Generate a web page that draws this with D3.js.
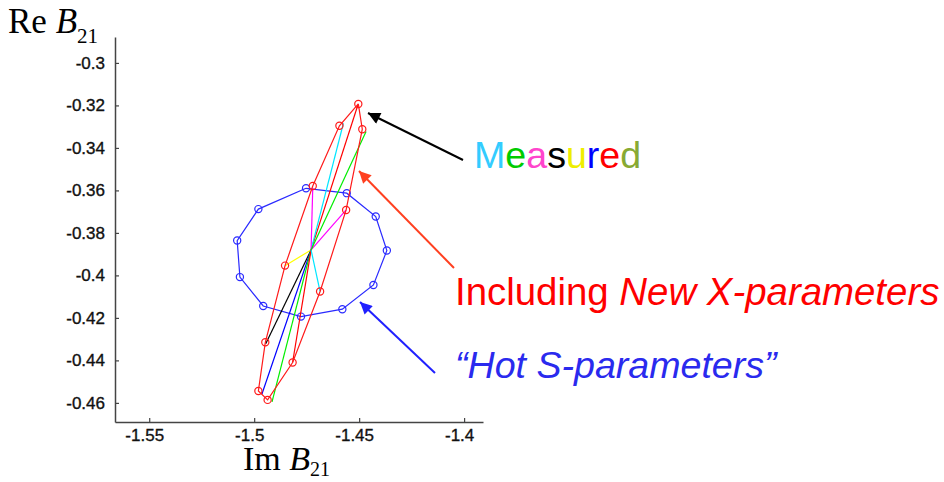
<!DOCTYPE html>
<html>
<head>
<meta charset="utf-8">
<script src="https://cdn.jsdelivr.net/npm/d3@7/dist/d3.min.js"></script>
<style>
  html, body { margin: 0; padding: 0; background: #fff; }
  svg { display: block; }
</style>
</head>
<body>
<svg id="chart" width="944" height="482"></svg>
<script>
// ---- data ----
const xTickValues = [-1.55, -1.5, -1.45, -1.4];
const xTickLabels = ["-1.55", "-1.5", "-1.45", "-1.4"];
const yTickValues = [-0.3, -0.32, -0.34, -0.36, -0.38, -0.4, -0.42, -0.44, -0.46];
const yTickLabels = ["-0.3", "-0.32", "-0.34", "-0.36", "-0.38", "-0.4", "-0.42", "-0.44", "-0.46"];

// "Hot S-parameters" (blue, closed)
const hotS = [
  [-1.4753, -0.3590], [-1.4559, -0.3613], [-1.4421, -0.3723], [-1.4368, -0.3883],
  [-1.4432, -0.4045], [-1.4580, -0.4159], [-1.4777, -0.4194], [-1.4957, -0.4144],
  [-1.5068, -0.4008], [-1.5081, -0.3836], [-1.4980, -0.3688]
];

// Including New X-parameters (red, closed)
const newX = [
  [-1.4504, -0.3193], [-1.4594, -0.3296], [-1.4721, -0.3579], [-1.4853, -0.3954],
  [-1.4947, -0.4315], [-1.4980, -0.4544], [-1.4936, -0.4586], [-1.4817, -0.4410],
  [-1.4686, -0.4076], [-1.4562, -0.3692], [-1.4485, -0.3312]
];

// Measured: spokes from the common starting point
const measuredStart = [-1.4729, -0.3880];
const measuredEnds = [
  [-1.4506, -0.3198], [-1.4575, -0.3284], [-1.4721, -0.3588], [-1.4853, -0.3955],
  [-1.4945, -0.4322], [-1.4963, -0.4558], [-1.4915, -0.4595], [-1.4817, -0.4410],
  [-1.4686, -0.4076], [-1.4562, -0.3692], [-1.4467, -0.3323]
];
const measuredColors = ["#ff0000", "#00e5ff", "#ff00ff", "#ffff00", "#000000", "#0000ff",
  "#00ee00", "#ff0000", "#00e5ff", "#ff00ff", "#00ee00"];

// ---- chart ----
const svg = d3.select("#chart");
const x = d3.scaleLinear().domain([-1.5663, -1.391]).range([115, 483]);
const y = d3.scaleLinear().domain([-0.469, -0.2878]).range([422, 37]);

const axisColor = "#444";
const gx = svg.append("g").attr("transform", "translate(0,422)")
  .call(d3.axisBottom(x).tickValues(xTickValues)
    .tickFormat((d, i) => xTickLabels[i]).tickSizeInner(-4).tickSizeOuter(0).tickPadding(7));
const gy = svg.append("g").attr("transform", "translate(115,0)")
  .call(d3.axisLeft(y).tickValues(yTickValues)
    .tickFormat((d, i) => yTickLabels[i]).tickSizeInner(-4).tickSizeOuter(0).tickPadding(10));
[gx, gy].forEach(g => {
  g.select(".domain").attr("stroke", axisColor).attr("stroke-width", 1.5);
  g.selectAll(".tick line").attr("stroke", axisColor).attr("stroke-width", 1.2);
  g.selectAll(".tick text").attr("fill", "#111").attr("stroke", "#111").attr("stroke-width", 0.35)
    .style("font-family", "'Liberation Sans', Arial, sans-serif").style("font-size", "17px");
});
gx.selectAll(".tick text").attr("dx", -5);

const line = d3.line().x(d => x(d[0])).y(d => y(d[1]));

// Hot S-parameters
svg.append("path").datum(hotS.concat([hotS[0]]))
  .attr("d", line).attr("fill", "none").attr("stroke", "#2a2aff").attr("stroke-width", 1.2);
svg.selectAll("circle.hs").data(hotS).enter().append("circle").attr("class", "hs")
  .attr("cx", d => x(d[0])).attr("cy", d => y(d[1])).attr("r", 3.6)
  .attr("fill", "none").attr("stroke", "#2a2aff").attr("stroke-width", 1.2);

// Measured spokes
svg.selectAll("path.meas").data(measuredEnds).enter().append("path").attr("class", "meas")
  .attr("d", d => line([measuredStart, d])).attr("fill", "none")
  .attr("stroke", (d, i) => measuredColors[i]).attr("stroke-width", 1.2);

// New X-parameters
svg.append("path").datum(newX.concat([newX[0]]))
  .attr("d", line).attr("fill", "none").attr("stroke", "#ff1a1a").attr("stroke-width", 1.2);
svg.selectAll("circle.nx").data(newX).enter().append("circle").attr("class", "nx")
  .attr("cx", d => x(d[0])).attr("cy", d => y(d[1])).attr("r", 3.6)
  .attr("fill", "none").attr("stroke", "#ff1a1a").attr("stroke-width", 1.2);

// Axis titles
const serif = "'Liberation Serif', 'Times New Roman', serif";
const ylab = svg.append("text").attr("x", 8).attr("y", 33)
  .style("font-family", serif).style("font-size", "35px").attr("fill", "#000");
ylab.append("tspan").text("Re ");
ylab.append("tspan").style("font-style", "italic").text("B");
ylab.append("tspan").attr("dy", 10).style("font-size", "21px").text("21");

const xlab = svg.append("text").attr("x", 243).attr("y", 470)
  .style("font-family", serif).style("font-size", "34px").attr("fill", "#000");
xlab.append("tspan").text("Im ");
xlab.append("tspan").style("font-style", "italic").text("B");
xlab.append("tspan").attr("dy", 6).style("font-size", "20px").text("21");

// Annotations
svg.append("defs").selectAll("marker").data([["ak", "#000"], ["ar", "#ff4020"], ["ab", "#2020ff"]])
  .enter().append("marker").attr("id", d => d[0]).attr("viewBox", "0 0 10 10")
  .attr("refX", 10).attr("refY", 5).attr("markerWidth", 15).attr("markerHeight", 12)
  .attr("markerUnits", "userSpaceOnUse").attr("orient", "auto")
  .append("path").attr("d", "M0,0 L10,5 L0,10 Z").attr("fill", d => d[1]);

const arrows = [
  [463, 160, 368, 113, "#000", "ak"],
  [454, 268, 359, 171, "#ff4020", "ar"],
  [435, 373, 360, 302, "#2020ff", "ab"]
];
svg.selectAll("line.arrow").data(arrows).enter().append("line").attr("class", "arrow")
  .attr("x1", d => d[0]).attr("y1", d => d[1]).attr("x2", d => d[2]).attr("y2", d => d[3])
  .attr("stroke", d => d[4]).attr("stroke-width", 2).attr("marker-end", d => `url(#${d[5]})`);

const sans = "'Liberation Sans', Arial, sans-serif";
const measLetters = ["M", "e", "a", "s", "u", "r", "e", "d"];
const measLetterColors = ["#33ccff", "#00cc00", "#ff44cc", "#000000", "#eeee00", "#0000ff", "#ff0000", "#88aa33"];
const mt = svg.append("text").attr("x", 474).attr("y", 168)
  .style("font-family", sans).style("font-size", "37.6px");
measLetters.forEach((c, i) => mt.append("tspan").attr("fill", measLetterColors[i]).text(c));

const it = svg.append("text").attr("x", 455).attr("y", 305)
  .style("font-family", sans).style("font-size", "38.4px").attr("fill", "#ff0000");
it.append("tspan").text("Including ");
it.append("tspan").style("font-style", "italic").text("New X-parameters");

svg.append("text").attr("x", 455).attr("y", 378)
  .style("font-family", sans).style("font-size", "37.6px").style("font-style", "italic")
  .attr("fill", "#2a2aee").text("\u201CHot S-parameters\u201D");
</script>
</body>
</html>
